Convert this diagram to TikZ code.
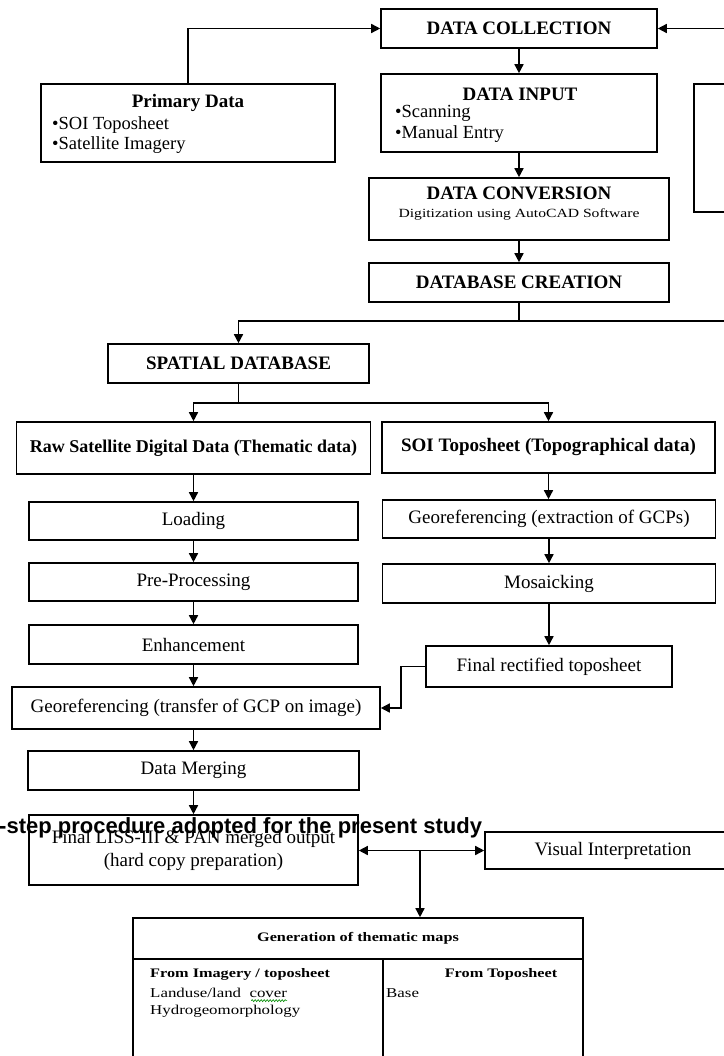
\documentclass[tikz,border=0pt]{standalone}
\usepackage{fontspec}
\setmainfont{Liberation Serif}
\newfontfamily\wideserif{Liberation Serif}[FakeStretch=1.25]
\newfontfamily\captionfont{Liberation Sans}
\usepackage{tikz}
\usetikzlibrary{arrows.meta, positioning, calc, decorations.pathmorphing}
\tikzset{
  % Box styles
  stagebox/.style={rectangle, draw, line width=1.6pt, inner sep=0pt, font=\fontsize{19}{22}\selectfont\bfseries, align=center},
  processbox/.style={rectangle, draw, line width=1.6pt, inner sep=0pt, font=\fontsize{19}{23}\selectfont, align=center},
  emptybox/.style={rectangle, draw, line width=1.6pt, inner sep=0pt},
  % Text styles
  headtext/.style={inner sep=0pt, font=\fontsize{19}{22}\selectfont\bfseries},
  listtext/.style={inner sep=0pt, font=\fontsize{18.5}{20.5}\selectfont, align=left, anchor=west},
  smalltext/.style={inner sep=0pt, font=\wideserif\fontsize{12.5}{14}\selectfont},
  tablehead/.style={inner sep=0pt, font=\wideserif\fontsize{13}{15}\selectfont\bfseries},
  tabletext/.style={inner sep=0pt, font=\wideserif\fontsize{13.5}{16}\selectfont, anchor=west},
  captext/.style={inner sep=0pt, font=\captionfont\fontsize{22}{24}\selectfont\bfseries},
  % Arrow styles
  arrow/.style={-{Triangle[length=9pt,width=9pt]}, line width=1.5pt},
  dblarrow/.style={{Triangle[length=9pt,width=9pt]}-{Triangle[length=9pt,width=9pt]}, line width=1.5pt},
  plainline/.style={line width=1.5pt},
  squiggle/.style={draw=green!55!black, line width=0.6pt, decorate, decoration={snake, amplitude=1pt, segment length=3pt}}
}

\begin{document}
\begin{tikzpicture}[x=1pt, y=-1pt]
  \useasboundingbox (0,0) rectangle (723,1056);

  % Data collection stage
  \node[stagebox, minimum width=276pt, minimum height=39pt] (collect) at (519,28.5) {DATA COLLECTION};

  \node[emptybox, minimum width=294pt, minimum height=78pt] (primary) at (188,123) {};
  \node[headtext] (primtitle) at (188,103) {Primary Data};
  \node[listtext] (primlist) at (52,135) {\textbullet SOI Toposheet\\\textbullet Satellite Imagery};

  \node[emptybox, minimum width=276pt, minimum height=78pt] (input) at (519,113) {};
  \node[headtext] (inputtitle) at (520,94) {DATA INPUT};
  \node[listtext] (inputlist) at (395,124) {\textbullet Scanning\\\textbullet Manual Entry};

  \node[emptybox, minimum width=60pt, minimum height=128pt] (other) at (724,148) {};

  \node[emptybox, minimum width=300pt, minimum height=62pt] (conv) at (519,209) {};
  \node[headtext] (convtitle) at (519,193) {DATA CONVERSION};
  \node[smalltext] (convsub) at (519,214) {Digitization using AutoCAD Software};

  \node[stagebox, minimum width=300pt, minimum height=39pt] (dbase) at (519,282.5) {DATABASE CREATION};

  \node[stagebox, minimum width=261pt, minimum height=39pt] (spatial) at (238.5,363.5) {SPATIAL DATABASE};

  % Thematic branch
  \node[stagebox, minimum width=354pt, minimum height=52pt, font=\fontsize{18}{22}\selectfont\bfseries] (raw) at (193.5,448) {Raw Satellite Digital Data (Thematic data)};
  \node[processbox, minimum width=329pt, minimum height=38pt] (loading) at (193.5,521) {Loading};
  \node[processbox, minimum width=329pt, minimum height=38pt] (prep) at (193.5,582) {Pre-Processing};
  \node[processbox, minimum width=329pt, minimum height=39pt] (enhance) at (193.5,644.5) {Enhancement};
  \node[processbox, minimum width=368pt, minimum height=42pt] (georeftr) at (196,708) {Georeferencing (transfer of GCP on image)};
  \node[processbox, minimum width=331pt, minimum height=39pt] (merge) at (193.5,770.5) {Data Merging};
  \node[processbox, minimum width=329pt, minimum height=70pt] (final) at (193.5,850) {Final LISS-III \& PAN merged output\\(hard copy preparation)};

  % Topographical branch
  \node[stagebox, minimum width=333pt, minimum height=51pt] (soi) at (548.5,447.5) {SOI Toposheet (Topographical data)};
  \node[processbox, minimum width=333pt, minimum height=38pt] (georefex) at (549,519) {Georeferencing (extraction of GCPs)};
  \node[processbox, minimum width=333pt, minimum height=39pt] (mosaic) at (549,583.5) {Mosaicking};
  \node[processbox, minimum width=246pt, minimum height=41pt] (rectified) at (549,666.5) {Final rectified toposheet};

  \node[processbox, minimum width=256pt, minimum height=37pt] (visual) at (613,850.5) {Visual Interpretation};

  % Thematic maps table
  \node[emptybox, minimum width=450pt, minimum height=41pt] (genhead) at (358,938.5) {};
  \node[tablehead] (gentitle) at (358,938) {Generation of thematic maps};
  \node[emptybox, minimum width=250pt, minimum height=142pt] (genleft) at (258,1030) {};
  \node[emptybox, minimum width=200pt, minimum height=142pt] (genright) at (483,1030) {};
  \node[tablehead, anchor=west] (fromimg) at (150,974) {From Imagery / toposheet};
  \node[tabletext] (landuse) at (150,993) {Landuse/land \ cover};
  \node[tabletext] (hydro) at (150,1011) {Hydrogeomorphology};
  \node[tablehead] (fromtopo) at (501,974) {From Toposheet};
  \node[tabletext] (base) at (386,993) {Base};
  \draw[squiggle] ($(landuse.base east)+(-36,3)$) -- ($(landuse.base east)+(0,3)$);

  % Caption text lying over the figure
  \node[captext, anchor=base west] (caption) at (-1,833) {-step procedure adopted for the present study};

  % Arrows
  \coordinate (rightin) at (740,28.5);
  \coordinate (rightout) at (740,321);
  \coordinate (join1) at (519,321);
  \coordinate (join2) at (238.5,403);
  \coordinate (drop) at (420,850);

  \draw[arrow] (primary.north) |- (collect.west);
  \draw[arrow] (rightin) -- (collect.east);
  \draw[arrow] (collect) -- (input);
  \draw[arrow] (input) -- (conv);
  \draw[arrow] (conv) -- (dbase);
  \draw[plainline] (dbase.south) -- (join1) -- (rightout);
  \draw[arrow] (join1) -| (spatial.north);
  \draw[plainline] (spatial.south) -- (join2);
  \draw[arrow] (join2) -| (raw.north);
  \draw[arrow] (join2) -| (soi.north);

  \draw[arrow] (raw) -- (loading);
  \draw[arrow] (loading) -- (prep);
  \draw[arrow] (prep) -- (enhance);
  \draw[arrow] (enhance.south) -- (enhance.south |- georeftr.north);
  \draw[arrow] (georeftr.south -| merge) -- (merge);
  \draw[arrow] (merge) -- (final);

  \draw[arrow] (soi) -- (soi |- georefex.north);
  \draw[arrow] (georefex) -- (mosaic);
  \draw[arrow] (mosaic) -- (rectified);
  \draw[arrow] (rectified.west) -- ++(-24,0) |- (georeftr.east);

  \draw[dblarrow] (final.east |- visual) -- (visual.west);
  \draw[arrow] (drop) -- (drop |- genhead.north);
\end{tikzpicture}
\end{document}
